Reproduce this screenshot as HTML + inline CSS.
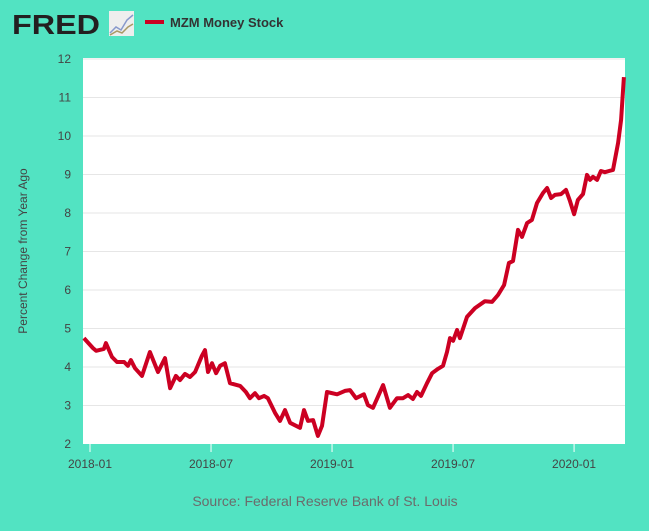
<!DOCTYPE html>
<html><head><meta charset="utf-8"><style>
body{margin:0;background:#52e3c2;width:649px;height:531px;overflow:hidden;font-family:"Liberation Sans",Arial,sans-serif}
svg{position:absolute;left:0;top:0}
</style></head><body>
<svg id="c" width="649" height="531">
<text x="12" y="34" font-size="28" font-weight="bold" fill="#231f20" textLength="88" lengthAdjust="spacingAndGlyphs">FRED</text>
<rect x="109" y="11" width="25" height="25" fill="#eee"/>
<polyline points="110,33 116,27 121,30 127,20 133,15" fill="none" stroke="#8899cc" stroke-width="1.5"/>
<polyline points="110,35 117,31 122,33 128,27 133,24" fill="none" stroke="#aa9966" stroke-width="1.5"/>
<rect x="145" y="20" width="19" height="4" fill="#cc0022"/>
<text x="170" y="27" font-size="13" font-weight="bold" fill="#333">MZM Money Stock</text>
<rect x="83" y="58" width="542" height="386" fill="#fff"/>
<g id="grid"></g><g id="yt"></g><g id="xt"></g>
<text transform="translate(27,251) rotate(-90)" text-anchor="middle" font-size="12" fill="#444">Percent Change from Year Ago</text>
<text x="325" y="506" text-anchor="middle" font-size="14" fill="#6b6b6b">Source: Federal Reserve Bank of St. Louis</text>
</svg>
<script>
const months=[-0.30,0.15,0.30,0.69,0.79,1.09,1.34,1.69,1.88,2.03,2.23,2.58,2.97,3.37,3.72,3.97,4.26,4.46,4.71,4.96,5.21,5.55,5.70,5.85,6.05,6.25,6.45,6.69,6.94,7.44,7.73,7.93,8.18,8.38,8.63,8.82,9.17,9.42,9.67,9.92,10.41,10.61,10.81,11.06,11.30,11.50,11.75,12.25,12.64,12.89,13.19,13.58,13.78,14.03,14.53,14.87,15.22,15.52,15.77,16.01,16.21,16.41,16.71,16.96,17.25,17.50,17.70,17.85,18.00,18.20,18.34,18.69,19.09,19.58,19.93,20.23,20.53,20.77,20.97,21.22,21.42,21.67,21.91,22.16,22.46,22.66,22.86,23.05,23.35,23.60,23.80,24.00,24.19,24.44,24.64,24.79,24.94,25.14,25.33,25.53,25.73,25.93,26.18,26.33,26.47];
const values=[4.75,4.49,4.42,4.47,4.62,4.26,4.13,4.13,4.03,4.18,3.97,3.77,4.39,3.87,4.23,3.45,3.77,3.66,3.82,3.74,3.87,4.29,4.44,3.87,4.10,3.84,4.03,4.10,3.58,3.51,3.35,3.19,3.32,3.19,3.25,3.19,2.81,2.60,2.88,2.55,2.42,2.88,2.60,2.62,2.21,2.47,3.35,3.29,3.38,3.40,3.19,3.29,3.01,2.94,3.53,2.94,3.19,3.19,3.27,3.17,3.35,3.25,3.58,3.84,3.95,4.03,4.39,4.75,4.68,4.96,4.75,5.30,5.53,5.71,5.69,5.87,6.13,6.70,6.75,7.56,7.38,7.74,7.82,8.26,8.52,8.65,8.39,8.47,8.49,8.60,8.31,7.97,8.34,8.49,8.99,8.86,8.94,8.86,9.09,9.06,9.09,9.12,9.82,10.42,11.53];
const yTicks=[2,3,4,5,6,7,8,9,10,11,12];
const xTickMonths=[0,6,12,18,24];
const xTickLabels=["2018-01","2018-07","2019-01","2019-07","2020-01"];
const X=m=>90+m*20.17, Y=v=>444-(v-2)*38.5;
const NS="http://www.w3.org/2000/svg";
const svg=document.getElementById('c');
function mk(t,a,p){const e=document.createElementNS(NS,t);for(const k in a)e.setAttribute(k,a[k]);(p||svg).appendChild(e);return e;}
yTicks.forEach(v=>{
 if(v>2){const l=mk('line',{x1:83,x2:625,y1:Y(v),y2:Y(v),stroke:'#e6e6e6','stroke-width':1},document.getElementById('grid'));
 
 }
 const t=mk('text',{x:71,y:Y(v)+4,'text-anchor':'end','font-size':12,fill:'#444'},document.getElementById('yt'));
 t.textContent=v;
 
 
});
xTickMonths.forEach((m,i)=>{
 const l=mk('line',{x1:X(m),x2:X(m),y1:444,y2:452,stroke:'#fff','stroke-width':1},document.getElementById('xt'));
 
 
 const t=mk('text',{x:X(m),y:468,'text-anchor':'middle','font-size':12,fill:'#444'},document.getElementById('xt'));
 t.textContent=xTickLabels[i];
 
 
});
const pl=mk('polyline',{points:months.map((m,i)=>X(m).toFixed(1)+','+Y(values[i]).toFixed(1)).join(' '),fill:'none',stroke:'#cc0022','stroke-width':4,'stroke-linejoin':'round'});


</script>
</body></html>
